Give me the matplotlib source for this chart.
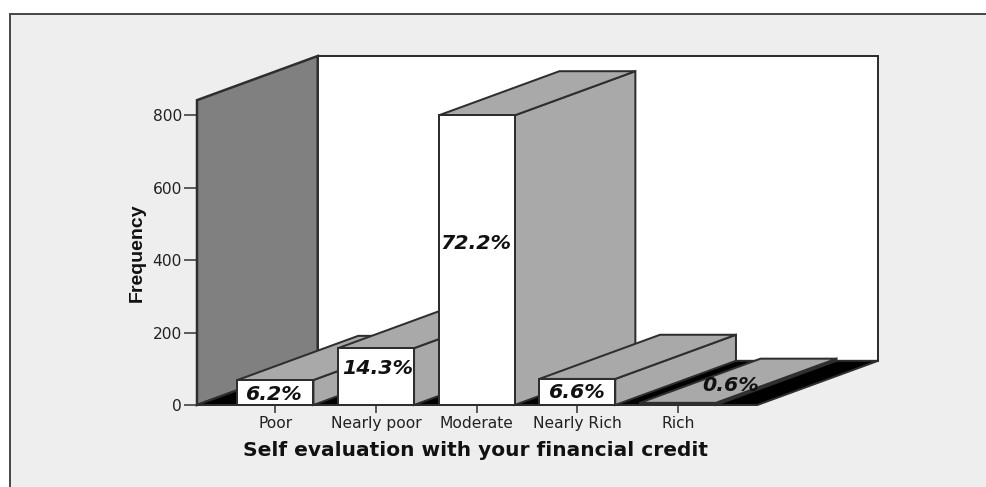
import matplotlib
matplotlib.use("Agg")
import matplotlib.pyplot as plt
from matplotlib.patches import Polygon, Rectangle

categories = ["Poor", "Nearly poor", "Moderate", "Nearly Rich", "Rich"]
frequency = [69, 157, 800, 72, 6]
percent = ["6.2%", "14.3%", "72.2%", "6.6%", "0.6%"]
y_ticks = [0, 200, 400, 600, 800]

# pixel offset (right, up) of each percent label from the middle of its bar front
label_offset = [(-1, -1.5), (2, 8.5), (-1, 17), (0, -1), (53, 18)]

W, H = 987, 487
dpi = 100
px = 72 / dpi

# 3d look: how far the depth of the chart goes, in data units
depth_x = 1.2
depth_y = 122
bar_w = 0.755
wall_top = 842
edge = "#2e2e2e"
side = "#a9a9a9"

fig = plt.figure(figsize=(W / dpi, H / dpi), dpi=dpi, facecolor="white")

# right and bottom edges fall outside the figure, only top and left show
panel = Rectangle((10 / W, -0.1), 1.1, 1.1 - 14 / H, transform=fig.transFigure,
                  facecolor="#eeeeee", edgecolor="#4a4a4a", linewidth=2 * px, zorder=-1)
fig.add_artist(panel)

# axes box runs from the front left floor corner to the back right wall corner
ax = fig.add_axes([197 / W, (H - 405) / H, (878 - 197) / W, (405 - 56) / H])
ax.patch.set_alpha(0)
x_left = -0.78
x_right = x_left + 681 / 100.6
ax.set_xlim(x_left, x_right)
ax.set_ylim(0, wall_top + depth_y)
for s in ax.spines.values():
    s.set_visible(False)


def poly(pts, color, z, lw=2.0):
    ax.add_patch(Polygon(pts, closed=True, facecolor=color, edgecolor=edge,
                         linewidth=lw * px, joinstyle="miter", zorder=z,
                         clip_on=False))


x_floor = x_right - depth_x
poly([(x_left + depth_x, depth_y), (x_right, depth_y), (x_right, wall_top + depth_y),
      (x_left + depth_x, wall_top + depth_y)], "white", 1)
poly([(x_left, 0), (x_left, wall_top), (x_left + depth_x, wall_top + depth_y),
      (x_left + depth_x, depth_y)], "#808080", 2, lw=2.5)
poly([(x_left, 0), (x_floor, 0), (x_right, depth_y), (x_left + depth_x, depth_y)], "black", 3)

for i, v in enumerate(frequency):
    l = i - bar_w / 2
    r = i + bar_w / 2
    z = 4 + i
    poly([(r, 0), (r + depth_x, depth_y), (r + depth_x, v + depth_y), (r, v)], side, z)
    poly([(l, v), (l + depth_x, v + depth_y), (r + depth_x, v + depth_y), (r, v)], side, z)
    poly([(l, 0), (r, 0), (r, v), (l, v)], "white", z)

for i, v in enumerate(frequency):
    dx, dy = label_offset[i]
    ax.annotate(percent[i], (i, v / 2), xytext=(dx * px, dy * px), textcoords="offset points",
                ha="center", va="center", fontsize=20.5 * px, fontweight="bold",
                fontstyle="oblique", family="DejaVu Sans", color="#111111", zorder=12)

ax.set_yticks(y_ticks)
ax.set_xticks(range(len(categories)))
ax.set_xticklabels(categories)
ax.tick_params(axis="y", length=13 * px, width=1.5 * px, color=edge, pad=2 * px,
               labelsize=15.5 * px, labelcolor="#222222")
ax.tick_params(axis="x", length=8 * px, width=1.5 * px, color=edge, pad=3 * px,
               labelsize=15.5 * px, labelcolor="#222222")

fig.text(476 / W, (H - 451) / H, "Self evaluation with your financial credit",
         ha="center", va="center", fontsize=20.2 * px, fontweight="bold",
         family="DejaVu Sans", color="#111111")
fig.text(137 / W, (H - 253) / H, "Frequency", rotation=90, ha="center", va="center",
         fontsize=19.5 * px, fontweight="bold", family="Liberation Sans",
         color="#111111")

fig.savefig("out.png", dpi=dpi, facecolor="white")
